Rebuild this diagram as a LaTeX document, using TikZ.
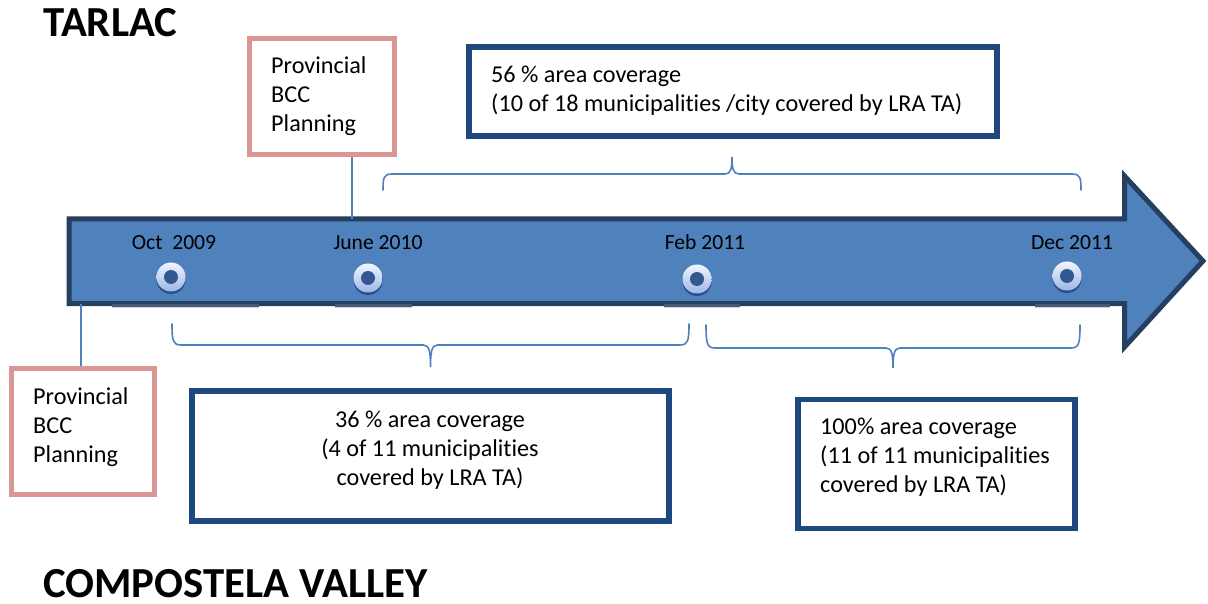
\documentclass[tikz,border=0pt]{standalone}
\usepackage{fontspec}
\setmainfont{Carlito}[Ligatures=NoCommon]
\usetikzlibrary{shadows}
\definecolor{shaftblue}{HTML}{4F81BD}
\definecolor{shaftedge}{HTML}{243F60}
\definecolor{boxblue}{HTML}{1F497D}
\definecolor{boxpink}{HTML}{D99694}
\definecolor{ringtop}{HTML}{F2F6FE}
\definecolor{ringbot}{HTML}{9CB6E8}
\definecolor{holeblue}{HTML}{34578F}
\begin{document}
\begin{tikzpicture}[x=1pt,y=-1pt,
  bodytext/.style={font=\fontsize{24.2}{29}\selectfont, inner sep=0pt},
  datetext/.style={font=\fontsize{21.6}{26}\selectfont, inner sep=0pt, anchor=base},
  titletext/.style={font=\fontsize{42.8}{48}\selectfont\bfseries, inner sep=0pt, text depth=0pt, anchor=base west},
  pinkbox/.style={draw=boxpink, line width=5.5pt, fill=white, inner sep=0pt},
  bluebox/.style={draw=boxblue, line width=5.5pt, fill=white, inner sep=0pt},
  link/.style={draw=shaftblue, line width=1.8pt},
  bracestyle/.style={draw=shaftblue, line width=1.6pt, line cap=round},
  milestone/.style={circle, minimum size=29pt, inner sep=0pt,
    top color=ringtop, bottom color=ringbot,
    drop shadow={shadow xshift=0pt, shadow yshift=-2.5pt, opacity=0.4, fill=black!80!blue},
    path picture={\fill[holeblue] (path picture bounding box.center) circle (7);}},
  tlbrace/.style n args={5}{insert path={
    (#1,#3) .. controls (#1,{#4+0.2*(#3-#4)}) and ({#1+1},#4) .. ({#1+9},#4)
    -- ({(#1+#2)/2-7},#4) .. controls ({(#1+#2)/2-1},#4) and ({(#1+#2)/2},{#4+0.35*(#5-#4)}) .. ({(#1+#2)/2},#5)
    .. controls ({(#1+#2)/2},{#4+0.35*(#5-#4)}) and ({(#1+#2)/2+1},#4) .. ({(#1+#2)/2+7},#4)
    -- ({#2-9},#4) .. controls ({#2-1},#4) and (#2,{#4+0.2*(#3-#4)}) .. (#2,#3)}}
]
\useasboundingbox (0,0) rectangle (1208,604);

% titles
\node[titletext] (tarlac) at (43,37) {TARLAC};
\node[titletext] (compostela) at (43,597) {COMPOSTELA VALLEY};

% timeline arrow
\filldraw[fill=shaftblue, draw=shaftedge, line width=5pt, line join=miter]
  (69,219) -- (1124.5,219) -- (1124.5,176) -- (1203,261) -- (1124.5,347)
  -- (1124.5,303.5) -- (69,303.5) -- cycle;
\coordinate (octfoot) at (81,303.5);
\coordinate (junetop) at (352,219);

% darker reflections under the shaft
\foreach \a/\b in {112/259, 335/412, 664/740, 1035/1110}{
  \fill[shaftedge!85!white] (\a,304) rectangle (\b,307);
  \draw[black!18, line width=1pt] (\a,307.8) -- (\b,307.8);
}

% milestones
\node[milestone] (m1) at (171,277) {};
\node[milestone] (m2) at (368,278) {};
\node[milestone] (m3) at (697,279) {};
\node[milestone] (m4) at (1067,276) {};

\node[datetext] (d1) at (174,250) {Oct\ \ 2009};
\node[datetext] (d2) at (378,250) {June 2010};
\node[datetext] (d3) at (705,250) {Feb 2011};
\node[datetext] (d4) at (1072,250) {Dec 2011};

% planning boxes (text anchored at the baseline of its last line)
\node[pinkbox, minimum width=145pt, minimum height=116pt] (pinkA) at (322,96.5) {};
\node[bodytext, align=left, anchor=base west] (pinkAt) at (271,132) {Provincial\\BCC\\Planning};
\node[pinkbox, minimum width=143pt, minimum height=126pt] (pinkB) at (83,431.5) {};
\node[bodytext, align=left, anchor=base west] (pinkBt) at (33,462) {Provincial\\BCC\\Planning};

\draw[link] (junetop |- pinkA.south) -- (junetop);
\draw[link] (octfoot) -- (octfoot |- pinkB.north);

% coverage boxes
\node[bluebox, minimum width=528pt, minimum height=89pt] (covT) at (733,91.5) {};
\node[bodytext, align=left, anchor=base west] (covTt) at (491,112)
  {56 \% area coverage\\(10 of 18 municipalities /city covered by LRA TA)};
\node[bluebox, minimum width=477pt, minimum height=130pt] (covL) at (430.5,456) {};
\node[bodytext, align=center, anchor=base] (covLt) at (430,485)
  {36 \% area coverage\\(4 of 11 municipalities\\covered by LRA TA)};
\node[bluebox, minimum width=277pt, minimum height=129pt] (covR) at (936.5,464) {};
\node[bodytext, align=left, anchor=base west] (covRt) at (820,492)
  {100\% area coverage\\(11 of 11 municipalities\\covered by LRA TA)};

% period braces
\draw[bracestyle, tlbrace={383}{1081}{190}{174}{157}];
\draw[bracestyle, tlbrace={172}{689}{324}{345}{367}];
\draw[bracestyle, tlbrace={706}{1080}{325}{348}{368}];
\end{tikzpicture}
\end{document}
